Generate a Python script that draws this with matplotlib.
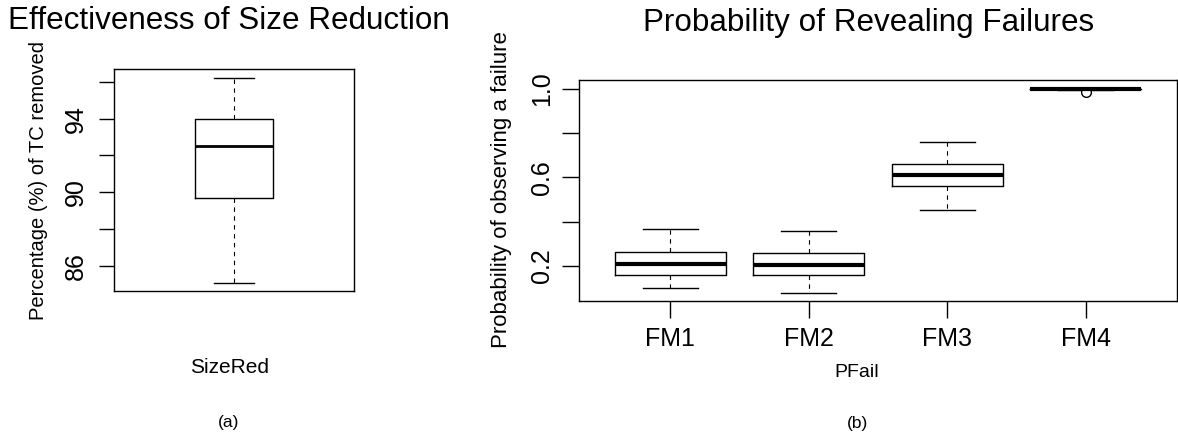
import matplotlib
matplotlib.use("Agg")
import matplotlib.pyplot as plt

plt.rcParams['font.family'] = ['Liberation Sans', 'DejaVu Sans']

# panel (a): size reduction, one box
size_stats = {'label': 'SizeRed', 'whislo': 85.1, 'q1': 89.68, 'med': 92.49,
              'q3': 93.98, 'whishi': 96.2, 'fliers': []}
size_ticks = [86, 88, 90, 92, 94, 96]
size_ticklabels = ['86', '', '90', '', '94', '']

# panel (b): probability of revealing failures
fm_names = ['FM1', 'FM2', 'FM3', 'FM4']
fm_whislo = [0.100, 0.075, 0.451, 0.995]
fm_q1 = [0.158, 0.158, 0.561, 0.998]
fm_med = [0.206, 0.202, 0.610, 1.000]
fm_q3 = [0.262, 0.256, 0.659, 1.000]
fm_whishi = [0.367, 0.358, 0.761, 1.000]
fm_fliers = [[], [], [], [0.985]]
p_ticks = [0.2, 0.4, 0.6, 0.8, 1.0]
p_ticklabels = ['0.2', '', '0.6', '', '1.0']

W, H = 1178, 436
fig = plt.figure(figsize=(W / 100, H / 100), dpi=100)

def px(x, y):
    # pixel coords (from top-left) -> figure fraction
    return x / W, 1 - y / H

def box_style(lw_med):
    return dict(boxprops=dict(color='black', linewidth=1.0),
                medianprops=dict(color='black', linewidth=lw_med, solid_capstyle='butt'),
                whiskerprops=dict(color='black', linewidth=0.8, linestyle=(0, (4, 4))),
                capprops=dict(color='black', linewidth=1.0),
                flierprops=dict(marker='o', markerfacecolor='white', markeredgecolor='black',
                                markersize=7, markeredgewidth=1.0))

# ---- left panel
ax1 = fig.add_axes([114 / W, 1 - 291 / H, 240 / W, 222 / H])
ax1.bxp([size_stats], positions=[1], widths=0.355, showfliers=False, **box_style(2.0))
ax1.set_xlim(0.46, 1.54)
ax1.set_ylim(84.65, 96.69)
ax1.set_xticks([])
ax1.set_yticks(size_ticks)
ax1.set_yticklabels(size_ticklabels, rotation=90, va='center', fontsize=18)
ax1.tick_params(axis='y', length=11, width=1, pad=8)
for s in ax1.spines.values():
    s.set_linewidth(1.0)

# ---- right panel
ax2 = fig.add_axes([579 / W, 1 - 300.7 / H, 598 / W, 220.7 / H])
stats = []
for i in range(len(fm_names)):
    stats.append({'label': fm_names[i], 'whislo': fm_whislo[i], 'q1': fm_q1[i],
                  'med': fm_med[i], 'q3': fm_q3[i], 'whishi': fm_whishi[i],
                  'fliers': fm_fliers[i]})
ax2.bxp(stats, positions=[1, 2, 3, 4], widths=0.8, **box_style(3.0))
ax2.set_xlim(0.34, 4.66)
ax2.set_ylim(0.0416, 1.0407)
ax2.set_xticks([1, 2, 3, 4])
ax2.set_xticklabels(fm_names, fontsize=18)
ax2.set_yticks(p_ticks)
ax2.set_yticklabels(p_ticklabels, rotation=90, va='center', fontsize=18)
ax2.tick_params(axis='both', length=12, width=1)
ax2.tick_params(axis='y', pad=6)
ax2.tick_params(axis='x', pad=7)
for s in ax2.spines.values():
    s.set_linewidth(1.0)

# ---- titles and labels
fig.text(*px(8, 21), 'Effectiveness of Size Reduction', fontsize=22.6, ha='left', va='center')
fig.text(*px(869, 23), 'Probability of Revealing Failures', fontsize=22.6, ha='center', va='center')
fig.text(*px(39, 180), 'Percentage (%) of TC removed', fontsize=14.5, rotation=90,
         ha='center', va='center')
fig.text(*px(501, 190), 'Probability of observing a failure', fontsize=16, rotation=90,
         ha='center', va='center')
fig.text(*px(230, 367), 'SizeRed', fontsize=15, ha='center', va='center')
fig.text(*px(857, 372), 'PFail', fontsize=14, ha='center', va='center')
fig.text(*px(229, 422), '(a)', fontsize=12.5, ha='center', va='center')
fig.text(*px(857, 423), '(b)', fontsize=12.5, ha='center', va='center')

fig.savefig('out.png', dpi=100)
